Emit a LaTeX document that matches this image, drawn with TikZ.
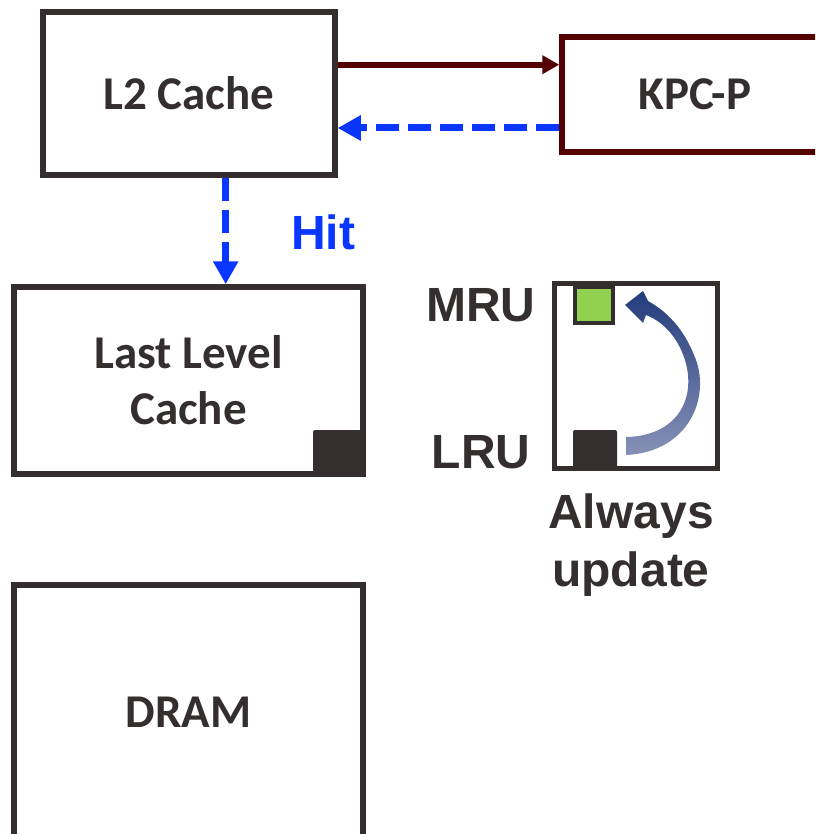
\documentclass[tikz,border=0pt]{standalone}
\usepackage{fontspec}
\setmainfont{Carlito}
\newfontfamily\arialfont{Liberation Sans}
\usetikzlibrary{arrows.meta}

\definecolor{boxgray}{RGB}{52,46,46}
\definecolor{kpcred}{RGB}{85,0,0}
\definecolor{hitblue}{RGB}{10,55,255}
\definecolor{mrugreen}{RGB}{146,208,80}
\definecolor{swapdark}{RGB}{35,60,125}
\definecolor{swaplight}{RGB}{135,145,182}

\begin{document}
\begin{tikzpicture}[x=1pt, y=-1pt,
    box/.style={draw=boxgray, line width=5.5pt, text=boxgray, align=center,
        inner sep=0pt, font=\fontsize{47}{56}\selectfont\bfseries},
    tag/.style={text=boxgray, align=center, inner sep=0pt,
        font=\fontsize{48}{58}\selectfont\arialfont\bfseries},
    hitarrow/.style={draw=hitblue, line width=7pt, dash pattern=on 23.5pt off 8.5pt,
        -{Triangle[length=23pt,width=24pt]}}]
    \useasboundingbox (0,0) rectangle (815,834);
    \clip (0,0) rectangle (815,834);

    % cache levels
    \node[box, minimum width=292pt, minimum height=163pt] (l2) at (189,93.5) {L2 Cache};
    \node[box, draw=kpcred, minimum width=266pt, minimum height=115pt] (kpc) at (695,94.5) {KPC-P};
    \node[box, minimum width=349pt, minimum height=187pt] (llc) at (188.5,380.5) {Last Level\\Cache};
    \node[box, minimum width=349pt, minimum height=254pt] (dram) at (188.5,712) {DRAM};
    \fill[boxgray, rounded corners=2pt] (313,430) rectangle (361,472);

    % requests between L2 and KPC-P
    \draw[kpcred, line width=6pt, -{Triangle[length=17pt,width=18pt]}]
        ([yshift=28.8pt]l2.east) -- ([yshift=28.8pt]l2.east -| kpc.west);
    \draw[hitarrow] ([yshift=-33.5pt]kpc.west) -- ([yshift=-33.5pt]kpc.west -| l2.east);
    \draw[hitarrow] ([xshift=36.7pt]l2.south) -- ([xshift=36.7pt]l2.south |- llc.north);
    \node[tag, text=hitblue] (hit) at (323,232) {Hit};

    % recency stack
    \node[box, line width=5pt, minimum width=163pt, minimum height=185pt] (stack) at (635.5,375.5) {};
    \draw[boxgray, fill=mrugreen, line width=4pt] (575,287) rectangle (613,323);
    \fill[boxgray, rounded corners=2pt] (573,430) rectangle (617,468);
    \node[tag] (mru) at (481,305) {MRU};
    \node[tag] (lru) at (481,452) {LRU};
    \node[tag] (always) at (631,545) {Always\\update};

    % LRU block moved to MRU
    \shade[top color=swapdark, bottom color=swaplight]
        (626,455) .. controls (690,452) and (712,395) .. (694,355)
        .. controls (684,330) and (668,312) .. (648,301)
        -- (643,291) -- (625,305) -- (643,323) -- (646,315)
        .. controls (664,322) and (678,338) .. (685,360)
        .. controls (697,400) and (676,436) .. (626,437) -- cycle;
\end{tikzpicture}
\end{document}
